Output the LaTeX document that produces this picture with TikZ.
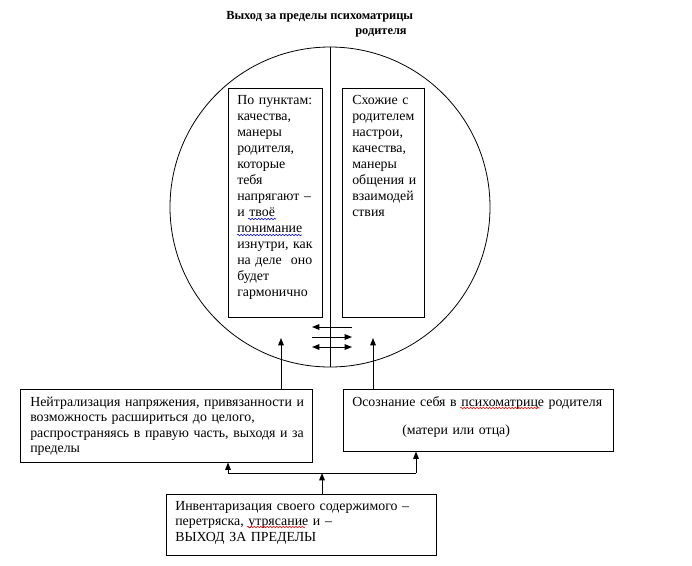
\documentclass[tikz,border=0pt]{standalone}
\usepackage{fontspec}
\setmainfont{Liberation Serif}
\usetikzlibrary{arrows.meta, fit, decorations.pathmorphing}

\begin{document}
\begin{tikzpicture}[x=0.75pt, y=-0.75pt, >={Triangle[length=5.5pt, width=4.2pt]},
    frame/.style={draw, line width=0.75pt, inner sep=0pt},
    txt/.style={anchor=base west, inner sep=0pt, align=left, text width=240pt,
                font=\fontsize{10.4}{11.7}\selectfont},
    heading/.style={anchor=base west, inner sep=0pt,
                font=\fontsize{9.3}{12}\selectfont\bfseries},
    tip/.style={->, line width=0.75pt},
    wave/.style={draw=#1, line width=0.4pt, decorate,
                decoration={snake, amplitude=0.6pt, segment length=2.4pt}}]
  \useasboundingbox (0,0) rectangle (692,565);

  % Title
  \node[heading] (title) at (226,19) {Выход за пределы психоматрицы};
  \node[heading] (titleb) at (355,34) {родителя};

  % Parent's psychomatrix, split in two halves
  \node[draw, circle, line width=0.6pt, minimum size=240pt, inner sep=0pt] (psy) at (330,207) {};
  \draw[line width=0.75pt] (psy.north) -- (psy.south);

  % Left half
  \node[frame, fit={(228,88) (322,317)}] (pointsL) {};
  \node[txt, font=\fontsize{10.4}{12}\selectfont] (pointsLtxt) at (237,104) {По пунктам:\\ качества,\\ манеры\\ родителя,\\ которые\\ тебя\\
    напрягают –\\ и твоё\\ понимание\\ изнутри, как\\ на деле~ оно\\ будет\\ гармонично};

  % Right half
  \node[frame, fit={(342,88) (424,317)}] (pointsR) {};
  \node[txt, font=\fontsize{10.4}{12}\selectfont] (pointsRtxt) at (352,104) {Схожие с\\ родителем\\ настрои,\\ качества,\\ манеры\\ общения и\\ взаимодей\\ ствия};

  % Exchange between the halves
  \foreach \y/\s [count=\i] in {327/<-, 337/->, 347/<->} {
    \coordinate (sw\i a) at (312,\y);
    \coordinate (sw\i b) at (352,\y);
    \draw[tip, \s] (sw\i a) -- (sw\i b);
  }

  % Neutralisation
  \node[frame, fit={(20,389) (312,462)}] (neutral) {};
  \node[txt] (neutraltxt) at (30,406) {Нейтрализация напряжения, привязанности и\\
    возможность расшириться до целого,\\ распространяясь в правую часть, выходя и за\\ пределы};

  % Awareness
  \node[frame, fit={(343,389) (613,451)}] (aware) {};
  \node[txt] (awaretxt) at (352,406) {Осознание себя в психоматрице родителя\\[9.3pt]
    \hspace*{37.5pt}(матери или отца)};

  % Inventory
  \node[frame, fit={(166,494) (436,555)}] (invent) {};
  \node[txt] (inventtxt) at (175,510) {Инвентаризация своего содержимого –\\
    перетряска, утрясание и –\\ ВЫХОД ЗА ПРЕДЕЛЫ};

  % Spell-check underlines
  \draw[wave=blue] (248,219) -- (276,219);
  \draw[wave=blue] (237,235) -- (302,235);
  \draw[wave=red] (460,408) -- (540,408);
  \draw[wave=red] (247,527) -- (305,527);

  % Arrows up into the circle
  \coordinate (inL) at (281,338);
  \coordinate (inR) at (373,338);
  \draw[tip] (neutral.north -| inL) -- (inL);
  \draw[tip] (aware.north -| inR) -- (inR);

  % Fork from the inventory
  \coordinate (fork) at (322,473);
  \coordinate (forkL) at (228,473);
  \coordinate (forkR) at (416,473);
  \draw[tip] (invent.north -| fork) -- (fork);
  \draw[line width=0.75pt] (forkL) -- (forkR);
  \draw[tip] (forkL) -- (forkL |- neutral.south);
  \draw[tip] (forkR) -- (forkR |- aware.south);
\end{tikzpicture}
\end{document}
